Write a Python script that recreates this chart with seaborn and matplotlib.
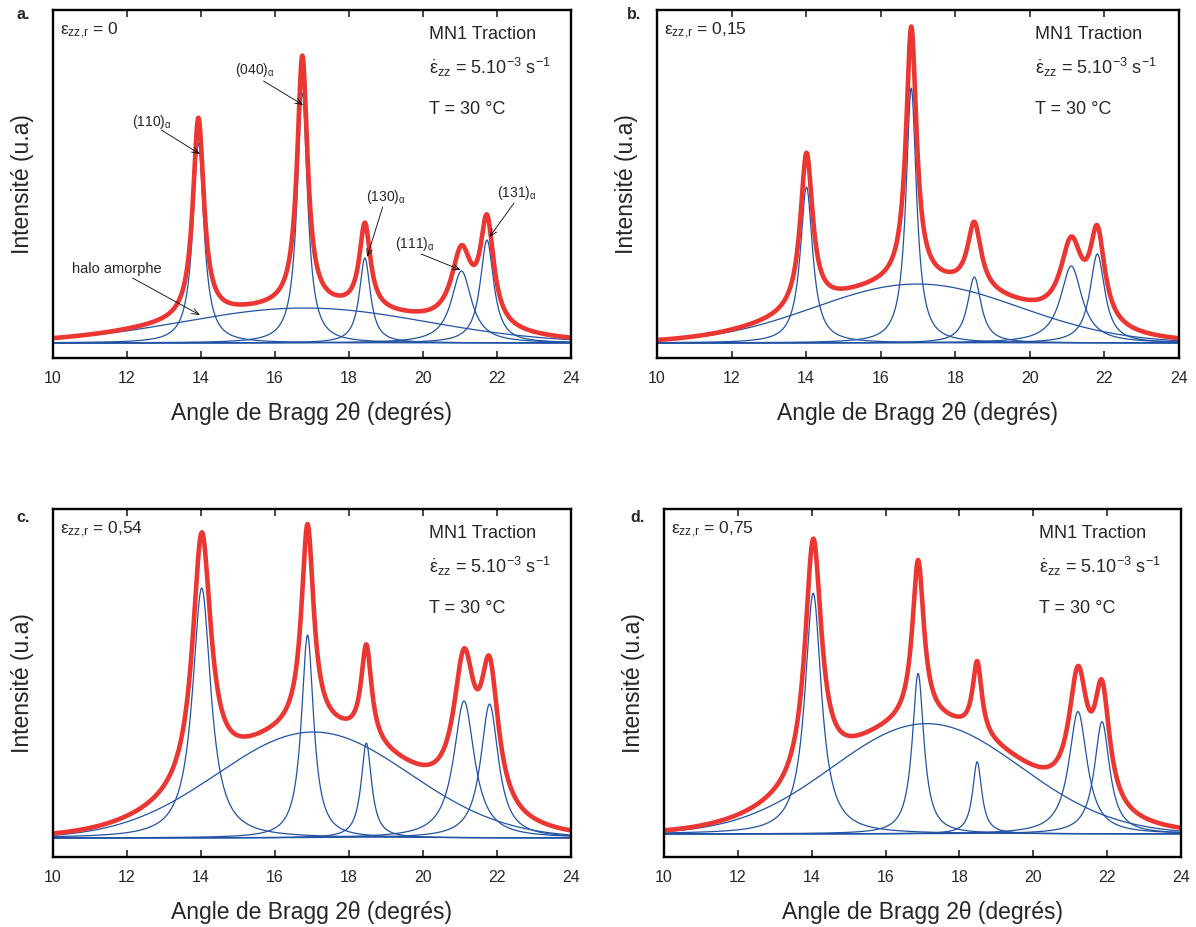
import numpy as np
import pandas as pd
import seaborn as sns
import matplotlib.pyplot as plt

# x-ray diffraction deconvolution, 4 strain states
panel_letters = ['a.', 'b.', 'c.', 'd.']
strain_values = ['0', '0,15', '0,54', '0,75']
x_ticks = [10, 12, 14, 16, 18, 20, 22, 24]
peak_names = ['(110)', '(040)', '(130)', '(111)', '(131)']

# crystalline peaks (Lorentzian) : centre, height, half width, per panel
peak_centers = [[13.93, 16.74, 18.43, 21.04, 21.73],
                [14.01, 16.82, 18.51, 21.11, 21.81],
                [14.02, 16.88, 18.47, 21.11, 21.80],
                [14.04, 16.88, 18.48, 21.21, 21.86]]
peak_heights = [[200, 250, 85, 72, 103],
                [156, 255, 66, 77, 89],
                [250, 203, 95, 137, 134],
                [240, 160, 72, 122, 112]]
peak_hwhm = [[0.18, 0.17, 0.18, 0.33, 0.22],
             [0.20, 0.17, 0.22, 0.35, 0.24],
             [0.30, 0.20, 0.17, 0.34, 0.29],
             [0.27, 0.19, 0.15, 0.30, 0.25]]

# amorphous halo (gaussian)
halo_center = [16.8, 16.98, 17.04, 17.11]
halo_height = [35, 59, 106, 110]
halo_sigma = [3.3, 2.75, 2.6, 2.55]

y_limits = [(-15, 333), (-15, 333), (-19, 329), (-23, 324)]

RED = '#ec3632'
BLUE = '#2152a3'

sns.set_style('white')
plt.rcParams['font.family'] = ['Liberation Sans', 'DejaVu Sans']
plt.rcParams['mathtext.fontset'] = 'custom'
plt.rcParams['mathtext.rm'] = 'Liberation Sans'
plt.rcParams['mathtext.it'] = 'Liberation Sans:italic'
plt.rcParams['mathtext.default'] = 'regular'

fig = plt.figure(figsize=(11.96, 9.27), dpi=100)
boxes = [[0.0443, 0.6138, 0.4331, 0.3754],
         [0.5493, 0.6138, 0.4365, 0.3754],
         [0.0443, 0.0755, 0.4331, 0.3754],
         [0.5552, 0.0755, 0.4323, 0.3754]]
label_pos = [(0.014, 0.984), (0.524, 0.984), (0.014, 0.442), (0.527, 0.442)]

tt = np.linspace(10, 24, 1401)

for i in range(4):
    ax = fig.add_axes(boxes[i])
    total = np.zeros_like(tt)
    comps = []
    for c, h, w in zip(peak_centers[i], peak_heights[i], peak_hwhm[i]):
        comps.append(h * w**2 / ((tt - c)**2 + w**2))
    comps.append(halo_height[i] * np.exp(-(tt - halo_center[i])**2 / (2 * halo_sigma[i]**2)))
    for comp in comps:
        total = total + comp
        sns.lineplot(x=tt, y=comp, ax=ax, color=BLUE, lw=0.9)
    df = pd.DataFrame({'2theta': tt, 'I': total})
    sns.lineplot(data=df, x='2theta', y='I', ax=ax, color=RED, lw=3.3)

    ax.set_xlim(10, 24)
    ax.set_ylim(*y_limits[i])
    ax.set_xticks(x_ticks)
    ax.set_yticks([])
    ax.tick_params(axis='x', direction='in', length=5, width=1.2, top=True,
                   bottom=True, labelsize=11.5, pad=9)
    for s in ax.spines.values():
        s.set_linewidth(1.7)
        s.set_color('black')
    ax.set_xlabel('Angle de Bragg 2θ (degrés)', fontsize=16.5, labelpad=12)
    ax.set_ylabel('Intensité (u.a)', fontsize=16.5, labelpad=14)

    fig.text(label_pos[i][0], label_pos[i][1], panel_letters[i], fontsize=11.5,
             fontweight='bold', va='center')
    ax.text(0.014, 0.94, r'$\varepsilon_{zz{,}r}$ = ' + strain_values[i],
            transform=ax.transAxes, fontsize=12.5, va='center')
    ax.text(0.725, 0.93, 'MN1 Traction', transform=ax.transAxes,
            fontsize=13, va='center')
    ax.text(0.725, 0.835, r'$\dot{\varepsilon}_{zz}$ = 5.10$^{-3}$ s$^{-1}$',
            transform=ax.transAxes, fontsize=13, va='center')
    ax.text(0.725, 0.715, 'T = 30 °C', transform=ax.transAxes,
            fontsize=13, va='center')

    if i == 0:
        arrow = dict(arrowstyle='->,head_length=0.5,head_width=0.2', lw=0.6,
                     color='black', shrinkA=0, shrinkB=0)
        texts = [(12.68, 221), (15.46, 273), (19.01, 146), (19.77, 99), (22.53, 150)]
        starts = [(12.93, 213), (15.69, 262), (18.91, 136), (19.95, 89), (22.46, 140)]
        ends = [(13.97, 189), (16.76, 238), (18.49, 86), (21.02, 73), (21.80, 106)]
        for name, t, s, e in zip(peak_names, texts, starts, ends):
            ax.text(t[0], t[1], name + r'$_\alpha$', fontsize=10, ha='center', va='center')
            ax.annotate('', xy=e, xytext=s, arrowprops=arrow)
        ax.text(11.73, 74, 'halo amorphe', fontsize=10.5, ha='center', va='center')
        ax.annotate('', xy=(13.97, 28), xytext=(12.15, 65), arrowprops=arrow)

fig.savefig('out.png', dpi=100)
